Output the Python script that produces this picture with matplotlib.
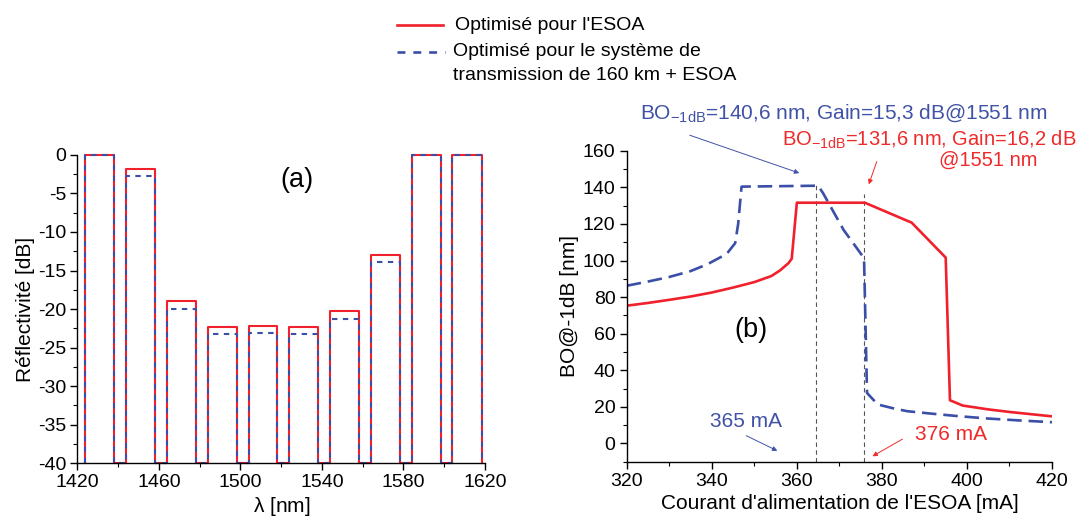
import matplotlib
matplotlib.use("Agg")
import matplotlib.pyplot as plt
from matplotlib.lines import Line2D
from matplotlib.ticker import MultipleLocator

plt.rcParams["font.family"] = ["Liberation Sans", "DejaVu Sans"]
plt.rcParams["mathtext.default"] = "regular"
plt.rcParams["axes.unicode_minus"] = False

# (a) reflectivity bands
band_left = [1424, 1444, 1464, 1484, 1504, 1524, 1544, 1564, 1584, 1604]
band_right = [1438.2, 1458.2, 1478.2, 1498.3, 1518.1, 1538.2, 1558.3, 1578.3, 1598.6, 1618.4]
refl_esoa = [0, -1.8, -19.0, -22.3, -22.2, -22.3, -20.3, -13.0, 0, 0]
refl_sys = [0, -2.7, -20.0, -23.2, -23.1, -23.2, -21.3, -13.9, 0, 0]
refl_floor = -40
wl_ticks = [1420, 1460, 1500, 1540, 1580, 1620]
wl_minor = [1440, 1480, 1520, 1560, 1600]

# (b) BO@-1dB vs current
cur_esoa = [320, 325, 330, 335, 340, 345, 350, 354, 356, 358, 358.8, 360, 376, 387, 395, 396, 399, 405, 410, 415, 420]
bo_esoa = [75.3, 76.8, 78.5, 80.3, 82.5, 85.2, 88.2, 91.5, 94.5, 98.5, 101, 131.6, 131.6, 120.7, 101.6, 23.6, 20.7, 18.6, 17.2, 16.0, 14.8]
cur_sys = [320, 325, 330, 335, 339, 343.5, 345.5, 346.2, 347, 365, 366.2, 371, 375.8, 376.5, 379, 383, 386, 392, 398, 405, 412, 420]
bo_sys = [86.2, 88.5, 91.0, 94.2, 98.0, 103.6, 109.5, 120, 140.4, 140.9, 136.7, 116.7, 101.3, 27.6, 21.3, 19.0, 17.6, 16.2, 14.9, 13.6, 12.6, 11.6]
vline_x = [364.6, 375.8]
vline_top = [143, 136.4]

RED = "#f0202c"
BLUE = "#3b4ea8"
TBLUE = "#4152a6"
TRED = "#ee2a2a"
FS = 14


def band_profile(lefts, rights, vals, floor):
    xs, ys = [], []
    for l, r, v in zip(lefts, rights, vals):
        xs += [l, l, r, r]
        ys += [floor, v, v, floor]
    return xs, ys


fig = plt.figure(figsize=(10.8, 5.27), dpi=100)
ax1 = fig.add_axes([0.0716, 0.1214, 0.3775, 0.5845])
ax2 = fig.add_axes([0.5803, 0.1239, 0.3938, 0.590])

xa, ya = band_profile(band_left, band_right, refl_esoa, refl_floor)
xb, yb = band_profile(band_left, band_right, refl_sys, refl_floor)
ax1.plot(xa, ya, color=RED, lw=1.5, clip_on=False, zorder=2)
ax1.plot(xb, yb, color=BLUE, lw=1.5, dashes=(2.6, 2.6), clip_on=False, zorder=3)
ax1.set_xlim(1420, 1620)
ax1.set_ylim(-40, 0)
ax1.set_xticks(wl_ticks)
ax1.set_xticks(wl_minor, minor=True)
ax1.yaxis.set_major_locator(MultipleLocator(5))
ax1.yaxis.set_minor_locator(MultipleLocator(2.5))
ax1.set_xlabel(r"$\lambda$ [nm]", fontsize=15, labelpad=3)
ax1.set_ylabel("Réflectivité [dB]", fontsize=15, labelpad=2)
ax1.text(1527.8, -3.3, "(a)", fontsize=19.5, ha="center", va="center")

ax2.plot(cur_esoa, bo_esoa, color=RED, lw=1.9, zorder=3)
ax2.plot(cur_sys, bo_sys, color=BLUE, lw=1.9, dashes=(5.5, 2.6), zorder=3)
for vx, vt in zip(vline_x, vline_top):
    ax2.plot([vx, vx], [-10, vt], color="#555555", lw=0.8, dashes=(4, 3), zorder=2)
ax2.set_xlim(320, 420)
ax2.set_ylim(-10, 160)
ax2.xaxis.set_major_locator(MultipleLocator(20))
ax2.xaxis.set_minor_locator(MultipleLocator(10))
ax2.yaxis.set_minor_locator(MultipleLocator(10))
ax2.set_yticks(range(0, 161, 20))
ax2.set_xlabel("Courant d'alimentation de l'ESOA [mA]", fontsize=15, labelpad=3)
ax2.set_ylabel("BO@-1dB [nm]", fontsize=15, labelpad=3)
ax2.text(349.1, 62, "(b)", fontsize=19.5, ha="center", va="center")

for ax in (ax1, ax2):
    ax.spines["top"].set_visible(False)
    ax.spines["right"].set_visible(False)
    for s in ("left", "bottom"):
        ax.spines[s].set_linewidth(1.0)
        ax.spines[s].set_zorder(4)
    ax.tick_params(which="major", direction="out", length=5, width=1.0, labelsize=FS, pad=3)
    ax.tick_params(which="minor", direction="out", length=3, width=0.8)

# annotations in (b)
AFS = 15
ax2.annotate("", xy=(361.2, 147.3), xytext=(334.2, 169), annotation_clip=False,
             arrowprops=dict(arrowstyle="-|>", color=TBLUE, lw=0.7, mutation_scale=7))
ax2.text(323.1, 180.6, r"BO$_{-1dB}$=140,6 nm, Gain=15,3 dB@1551 nm", color=TBLUE,
         fontsize=AFS, ha="left", va="center", clip_on=False)
ax2.annotate("", xy=(376.7, 140.2), xytext=(379.0, 155.5), annotation_clip=False,
             arrowprops=dict(arrowstyle="-|>", color=TRED, lw=0.7, mutation_scale=7))
ax2.text(425.7, 165.8, r"BO$_{-1dB}$=131,6 nm, Gain=16,2 dB", color=TRED,
         fontsize=14.5, ha="right", va="center", clip_on=False)
ax2.text(405.0, 154.9, "@1551 nm", color=TRED, fontsize=14.5, ha="center", va="center", clip_on=False)

ax2.text(348.0, 12.2, "365 mA", color=TBLUE, fontsize=AFS, ha="center", va="center")
ax2.annotate("", xy=(356, -4.7), xytext=(347.5, 4.9), annotation_clip=False,
             arrowprops=dict(arrowstyle="-|>", color=TBLUE, lw=0.7, mutation_scale=7))
ax2.text(396.2, 4.9, "376 mA", color=TRED, fontsize=AFS, ha="center", va="center")
ax2.annotate("", xy=(377.2, -7.8), xytext=(385.4, 3.1), annotation_clip=False,
             arrowprops=dict(arrowstyle="-|>", color=TRED, lw=0.7, mutation_scale=7))

# legend drawn by hand so the dashed key sits on the first label line
W, H = 1080, 527
leg_labels = ["Optimisé pour l'ESOA", "Optimisé pour le système de", "transmission de 160 km + ESOA"]
fig.add_artist(Line2D([397 / W, 443 / W], [1 - 25 / H] * 2, color=RED, lw=1.9, transform=fig.transFigure))
fig.add_artist(Line2D([397 / W, 445 / W], [1 - 52 / H] * 2, color=BLUE, lw=1.9, dashes=(3, 3),
                      transform=fig.transFigure))
fig.text(455 / W, 1 - 25 / H, leg_labels[0], fontsize=FS, ha="left", va="center")
fig.text(453 / W, 1 - 52 / H, leg_labels[1], fontsize=FS, ha="left", va="center")
fig.text(453 / W, 1 - 75 / H, leg_labels[2], fontsize=FS, ha="left", va="center")

fig.savefig("out.png", dpi=100)
